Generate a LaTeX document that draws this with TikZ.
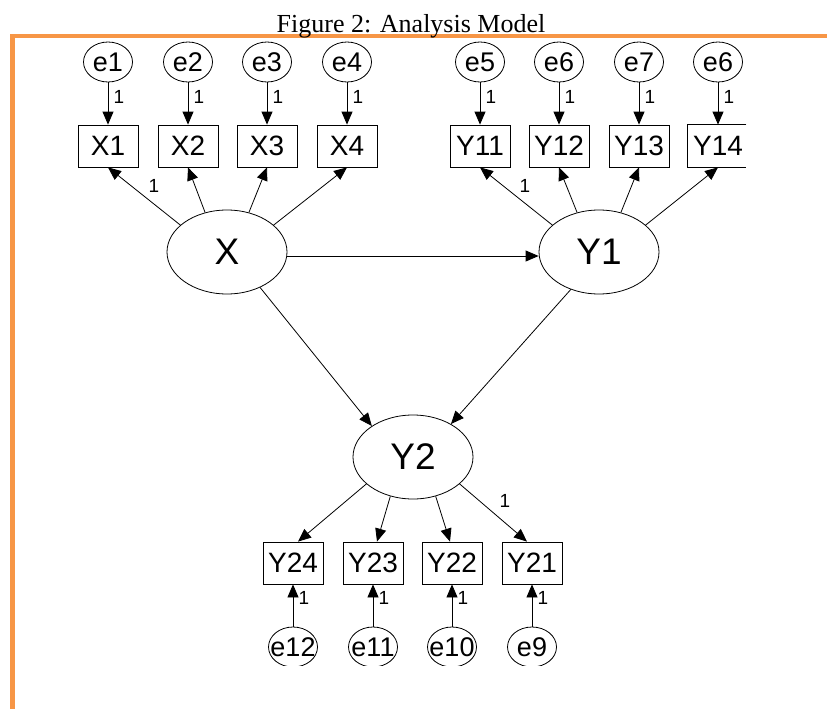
\documentclass[tikz,border=0pt]{standalone}
\usepackage{fontspec}
\setmainfont{Liberation Serif}
\newfontfamily\hv{Liberation Sans}
\usetikzlibrary{shapes.geometric,arrows.meta}
\definecolor{frameorange}{HTML}{F79646}
\newcommand\zw[1]{\hbox to 0pt{\hss#1\hss}}
\begin{document}
\begin{tikzpicture}[x=1pt,y=-1pt,
  err/.style={ellipse, draw, line width=0.8pt, minimum width=49pt, minimum height=40pt, inner sep=0pt, font=\hv\fontsize{27}{27}\selectfont},
  obs/.style={rectangle, draw, line width=0.8pt, minimum width=60pt, minimum height=42pt, inner sep=0pt, font=\hv\fontsize{28}{28}\selectfont},
  obsopen/.style={obs, draw=none},
  lat/.style={ellipse, draw, line width=0.8pt, minimum width=120pt, minimum height=84pt, inner sep=0pt, font=\hv\fontsize{37}{37}\selectfont},
  arr/.style={-{Triangle[length=13pt,width=11pt]}, line width=0.8pt},
  lbl/.style={font=\hv\fontsize{19}{19}\selectfont, inner sep=0pt}]
\useasboundingbox (0,0) rectangle (827,709);
% frame
\draw[frameorange, line width=4.5pt] (12.5,709) -- (12.5,36) -- (827,36);
\node[font=\fontsize{26}{26}\selectfont, anchor=base, inner sep=0pt] (title) at (411,32.5) {Figure 2: Analysis Model};
% top error terms
\node[err] (e1) at (108,62) {\zw{e1}};
\node[err] (e2) at (188,62) {\zw{e2}};
\node[err] (e3) at (267,62) {\zw{e3}};
\node[err] (e4) at (347,62) {\zw{e4}};
\node[err] (e5) at (480,62) {\zw{e5}};
\node[err] (e6) at (559,62) {\zw{e6}};
\node[err] (e7) at (639,62) {\zw{e7}};
\node[err] (e6b) at (718,62) {\zw{e6}};
% top indicators
\node[obs] (X1) at (108,146) {\zw{X1}};
\node[obs] (X2) at (188,146) {\zw{X2}};
\node[obs] (X3) at (267,146) {\zw{X3}};
\node[obs] (X4) at (347,146) {\zw{X4}};
\node[obs] (Y11) at (480,146) {\zw{Y11}};
\node[obs] (Y12) at (559,146) {\zw{Y12}};
\node[obs] (Y13) at (639,146) {\zw{Y13}};
\node[obsopen] (Y14) at (718,146) {\zw{Y14}};
\draw[line width=0.8pt] ([xshift=-2pt]Y14.north east) -- (Y14.north west) -- (Y14.south west) -- ([xshift=-2pt]Y14.south east);
% latent variables
\node[lat] (X) at (227,252) {X};
\node[lat] (Y1) at (599,252) {Y1};
\node[lat] (Y2) at (413,457) {Y2};
% bottom indicators
\node[obs] (Y24) at (293,563) {\zw{Y24}};
\node[obs] (Y23) at (373,563) {\zw{Y23}};
\node[obs] (Y22) at (452,563) {\zw{Y22}};
\node[obs] (Y21) at (532,563) {\zw{Y21}};
% bottom error terms (cut at the bottom)
\begin{scope}
\clip (0,0) rectangle (827,665);
\node[err] (e12) at (293,647) {\zw{e12}};
\node[err] (e11) at (373,647) {\zw{e11}};
\node[err] (e10) at (452,647) {\zw{e10}};
\node[err] (e9) at (532,647) {\zw{e9}};
\end{scope}
% error arrows top
\foreach \e/\b in {e1/X1,e2/X2,e3/X3,e4/X4,e5/Y11,e6/Y12,e7/Y13,e6b/Y14}
  \draw[arr] (\e.south) -- (\b.north);
% loadings
\draw[arr] (X.150) -- (X1.south);
\draw[arr] (X.119) -- (X2.south);
\draw[arr] (X.61) -- (X3.south);
\draw[arr] (X.30) -- (X4.south);
\draw[arr] (Y1.150) -- (Y11.south);
\draw[arr] (Y1.119) -- (Y12.south);
\draw[arr] (Y1.61) -- (Y13.south);
\draw[arr] (Y1.30) -- (Y14.south);
% structural paths
\draw[arr] ([yshift=-4pt]X.east) -- ([yshift=-4pt]Y1.west);
\draw[arr] (X.-47) -- (Y2.143);
\draw[arr] (Y1.-127) -- (Y2.41);
% Y2 loadings
\draw[arr] (Y2.210) -- ([xshift=5pt]Y24.north);
\draw[arr] (Y2.240) -- ([xshift=4pt]Y23.north);
\draw[arr] (Y2.300) -- ([xshift=-2pt]Y22.north);
\draw[arr] (Y2.330) -- ([xshift=-5pt]Y21.north);
% bottom error arrows
\foreach \e/\b in {e12/Y24,e11/Y23,e10/Y22,e9/Y21}
  \draw[arr] (\e.north) -- (\b.south);
% labels
\foreach \x [count=\i] in {119,199,278,358,491,570,650,729}
  \node[lbl] (lt\i) at (\x,97) {1};
\node[lbl] (lx) at (154,186) {1};
\node[lbl] (ly) at (525,186) {1};
\node[lbl] (ly2) at (505,501) {1};
\foreach \x [count=\i] in {304,384,463,543}
  \node[lbl] (lb\i) at (\x,598) {1};
\end{tikzpicture}
\end{document}
